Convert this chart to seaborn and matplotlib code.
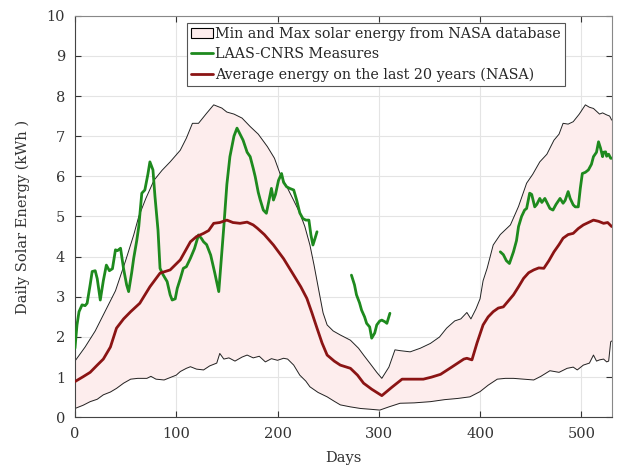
import numpy as np
import pandas as pd
import matplotlib
matplotlib.use("Agg")
import matplotlib.pyplot as plt
import seaborn as sns
from matplotlib.patches import Patch
from matplotlib.lines import Line2D

# ---- data ----
max_days = [0, 10, 20, 28, 40, 50, 58, 63, 70, 78, 86, 94, 104, 110, 116, 122, 130, 137, 145, 150, 157, 165, 173, 181, 190, 197, 203, 210, 216, 222, 227, 232, 236, 241, 245, 249, 255, 262, 272, 280, 285, 292, 298, 303, 310, 316, 321, 331, 341, 351, 360, 367, 375, 381, 387, 391, 396, 400, 403, 407, 413, 420, 430, 438, 446, 452, 459, 466, 473, 478, 482, 487, 492, 498, 504, 508, 512, 515, 518, 521, 525, 528, 530]
max_vals = [1.40, 1.75, 2.15, 2.55, 3.15, 3.90, 4.54, 5.00, 5.45, 5.90, 6.15, 6.36, 6.65, 6.95, 7.32, 7.32, 7.57, 7.78, 7.70, 7.60, 7.55, 7.45, 7.24, 7.05, 6.74, 6.45, 6.03, 5.70, 5.40, 5.09, 4.75, 4.29, 3.80, 3.13, 2.60, 2.30, 2.15, 2.05, 1.92, 1.72, 1.55, 1.32, 1.12, 0.97, 1.25, 1.68, 1.66, 1.63, 1.72, 1.84, 2.00, 2.22, 2.40, 2.45, 2.61, 2.45, 2.70, 2.95, 3.40, 3.71, 4.29, 4.55, 4.79, 5.25, 5.83, 6.05, 6.36, 6.55, 6.90, 7.05, 7.32, 7.30, 7.36, 7.55, 7.78, 7.72, 7.69, 7.62, 7.55, 7.58, 7.53, 7.50, 7.40]

min_days = [0, 8, 15, 22, 28, 35, 41, 48, 55, 62, 71, 75, 80, 88, 93, 100, 104, 110, 114, 120, 127, 133, 140, 143, 147, 152, 158, 165, 170, 176, 182, 188, 194, 200, 206, 210, 216, 222, 228, 232, 240, 249, 256, 262, 272, 282, 292, 301, 310, 321, 335, 351, 365, 378, 390, 400, 408, 417, 425, 433, 443, 453, 460, 469, 478, 486, 492, 496, 502, 508, 512, 515, 518, 522, 525, 527, 529, 530]
min_vals = [0.22, 0.30, 0.39, 0.45, 0.56, 0.63, 0.72, 0.85, 0.95, 0.97, 0.97, 1.02, 0.95, 0.93, 0.98, 1.05, 1.14, 1.22, 1.26, 1.20, 1.18, 1.28, 1.35, 1.59, 1.45, 1.48, 1.40, 1.50, 1.55, 1.48, 1.52, 1.38, 1.46, 1.42, 1.47, 1.45, 1.30, 1.05, 0.90, 0.76, 0.62, 0.51, 0.40, 0.31, 0.26, 0.22, 0.20, 0.18, 0.26, 0.35, 0.36, 0.39, 0.44, 0.47, 0.51, 0.64, 0.80, 0.95, 0.97, 0.97, 0.95, 0.93, 1.02, 1.16, 1.12, 1.22, 1.25, 1.18, 1.30, 1.35, 1.55, 1.40, 1.43, 1.45, 1.38, 1.40, 1.88, 1.90]

avg_days = [0, 8, 15, 22, 28, 35, 41, 48, 55, 64, 74, 84, 94, 104, 114, 120, 127, 132, 137, 143, 150, 156, 163, 170, 176, 180, 187, 196, 206, 216, 223, 229, 234, 239, 244, 249, 256, 262, 272, 279, 285, 293, 303, 313, 323, 333, 344, 352, 361, 372, 384, 387, 392, 397, 403, 408, 413, 418, 423, 428, 433, 438, 443, 448, 453, 458, 463, 468, 473, 478, 482, 487, 492, 497, 502, 507, 512, 517, 522, 526, 530]
avg_vals = [0.89, 1.01, 1.12, 1.30, 1.45, 1.75, 2.22, 2.45, 2.63, 2.84, 3.25, 3.59, 3.67, 3.92, 4.37, 4.50, 4.58, 4.65, 4.83, 4.85, 4.91, 4.85, 4.83, 4.86, 4.79, 4.71, 4.55, 4.29, 3.95, 3.54, 3.25, 2.96, 2.60, 2.22, 1.85, 1.55, 1.40, 1.30, 1.22, 1.05, 0.85, 0.70, 0.54, 0.75, 0.95, 0.95, 0.95, 1.00, 1.07, 1.25, 1.45, 1.47, 1.43, 1.85, 2.30, 2.50, 2.63, 2.72, 2.75, 2.90, 3.05, 3.25, 3.46, 3.60, 3.67, 3.72, 3.71, 3.90, 4.12, 4.30, 4.46, 4.55, 4.58, 4.70, 4.79, 4.85, 4.91, 4.88, 4.83, 4.85, 4.75]

meas1_days = [0, 2, 4, 7, 10, 12, 15, 17, 20, 22, 25, 28, 31, 34, 37, 40, 42, 45, 48, 51, 53, 56, 58, 61, 63, 66, 69, 72, 74, 77, 79, 82, 84, 87, 91, 94, 96, 99, 101, 104, 107, 110, 114, 118, 122, 125, 127, 130, 134, 138, 142, 147, 150, 153, 157, 160, 163, 166, 170, 173, 176, 178, 181, 183, 186, 189, 192, 194, 196, 198, 201, 204, 206, 209, 212, 216, 219, 222, 225, 228, 231, 233, 235, 237, 239]
meas1_vals = [1.72, 2.30, 2.63, 2.80, 2.78, 2.84, 3.30, 3.63, 3.65, 3.45, 2.92, 3.40, 3.79, 3.65, 3.70, 4.17, 4.15, 4.21, 3.70, 3.30, 3.13, 3.60, 3.96, 4.40, 4.75, 5.58, 5.66, 6.05, 6.36, 6.16, 5.50, 4.66, 3.71, 3.55, 3.38, 3.05, 2.92, 2.95, 3.21, 3.45, 3.71, 3.75, 3.96, 4.20, 4.54, 4.45, 4.37, 4.30, 4.04, 3.60, 3.13, 4.75, 5.80, 6.49, 7.00, 7.20, 7.05, 6.90, 6.60, 6.49, 6.20, 5.99, 5.60, 5.41, 5.16, 5.08, 5.45, 5.70, 5.41, 5.55, 5.90, 6.07, 5.85, 5.74, 5.70, 5.66, 5.40, 5.09, 4.95, 4.91, 4.91, 4.54, 4.29, 4.45, 4.62]

meas2_days = [273, 276, 278, 281, 283, 286, 288, 291, 293, 296, 298, 301, 303, 306, 308, 311]
meas2_vals = [3.54, 3.30, 3.05, 2.85, 2.67, 2.50, 2.34, 2.25, 1.97, 2.10, 2.30, 2.40, 2.42, 2.38, 2.34, 2.59]

meas3_days = [420, 423, 426, 429, 433, 436, 438, 441, 444, 446, 449, 451, 454, 456, 459, 461, 464, 466, 469, 472, 475, 479, 482, 484, 487, 489, 492, 494, 497, 499, 501, 504, 507, 510, 512, 515, 517, 519, 521, 522, 524, 525, 527, 529, 530]
meas3_vals = [4.12, 4.05, 3.90, 3.83, 4.12, 4.40, 4.75, 5.00, 5.16, 5.20, 5.58, 5.55, 5.24, 5.30, 5.45, 5.35, 5.45, 5.35, 5.20, 5.16, 5.30, 5.45, 5.33, 5.40, 5.62, 5.45, 5.29, 5.24, 5.24, 5.70, 6.07, 6.10, 6.16, 6.30, 6.49, 6.60, 6.86, 6.70, 6.49, 6.60, 6.61, 6.50, 6.55, 6.45, 6.45]

legend_labels = ["Min and Max solar energy from NASA database",
                 "LAAS-CNRS Measures",
                 "Average energy on the last 20 years (NASA)"]
x_label = "Days"
y_label = "Daily Solar Energy (kWh )"
x_ticks = [0, 100, 200, 300, 400, 500]
y_ticks = list(range(0, 11))

# ---- style ----
sns.set_theme(style="whitegrid")
plt.rcParams['font.family'] = ['DejaVu Serif']
plt.rcParams['mathtext.fontset'] = 'dejavuserif'

GREEN = "#1e8a1e"
DARKRED = "#8b1414"
FILL = "#fdeded"

fig = plt.figure(figsize=(6.17, 4.68), dpi=100)
ax = fig.add_axes([0.1215, 0.1083, 0.8699, 0.8582])
ax.set_facecolor("white")

# band between min and max (on a common grid built from the read values)
grid = np.union1d(max_days, min_days)
band = pd.DataFrame({"day": grid,
                     "lo": np.interp(grid, min_days, min_vals),
                     "hi": np.interp(grid, max_days, max_vals)})
ax.fill_between(band["day"], band["lo"], band["hi"], color=FILL, linewidth=0, zorder=1)

df_max = pd.DataFrame({"day": max_days, "val": max_vals})
df_min = pd.DataFrame({"day": min_days, "val": min_vals})
df_avg = pd.DataFrame({"day": avg_days, "val": avg_vals})
sns.lineplot(data=df_max, x="day", y="val", ax=ax, color="#222222", linewidth=0.7, zorder=2)
sns.lineplot(data=df_min, x="day", y="val", ax=ax, color="#222222", linewidth=0.7, zorder=2)
for d, v in [(meas1_days, meas1_vals), (meas2_days, meas2_vals), (meas3_days, meas3_vals)]:
    sns.lineplot(data=pd.DataFrame({"day": d, "val": v}), x="day", y="val", ax=ax,
                 color=GREEN, linewidth=2.0, zorder=3)
sns.lineplot(data=df_avg, x="day", y="val", ax=ax, color=DARKRED, linewidth=2.0, zorder=4)

ax.set_xlim(0, 530)
ax.set_ylim(0, 10)
ax.set_xticks(x_ticks)
ax.set_yticks(y_ticks)
ax.set_xlabel(x_label, fontsize=10.5, color="#333333")
ax.xaxis.set_label_coords(0.5, -0.083)
ax.set_ylabel(y_label, fontsize=10.5, color="#333333", labelpad=12)
ax.tick_params(axis="both", which="both", direction="in", length=4, width=0.8,
               labelsize=10.5, colors="#333333", top=True, right=True,
               bottom=True, left=True, pad=7)
ax.grid(True, color="#e4e4e4", linewidth=0.8)
for s in ax.spines.values():
    s.set_visible(True)
    s.set_color("#444444")
    s.set_linewidth(0.8)
ax.spines["top"].set_color("#888888")
ax.spines["right"].set_color("#888888")

handles = [Patch(facecolor=FILL, edgecolor="black", linewidth=0.8),
           Line2D([], [], color=GREEN, linewidth=2.0),
           Line2D([], [], color=DARKRED, linewidth=2.0)]
leg = ax.legend(handles, legend_labels, loc="upper left", bbox_to_anchor=(0.209, 0.982),
                borderaxespad=0, frameon=True, fancybox=False, framealpha=1,
                edgecolor="#555555", fontsize=10.3, handlelength=1.5, handletextpad=0.15,
                labelspacing=0.42, borderpad=0.3)
leg.get_frame().set_linewidth(0.8)

fig.savefig("out.png", dpi=100)
